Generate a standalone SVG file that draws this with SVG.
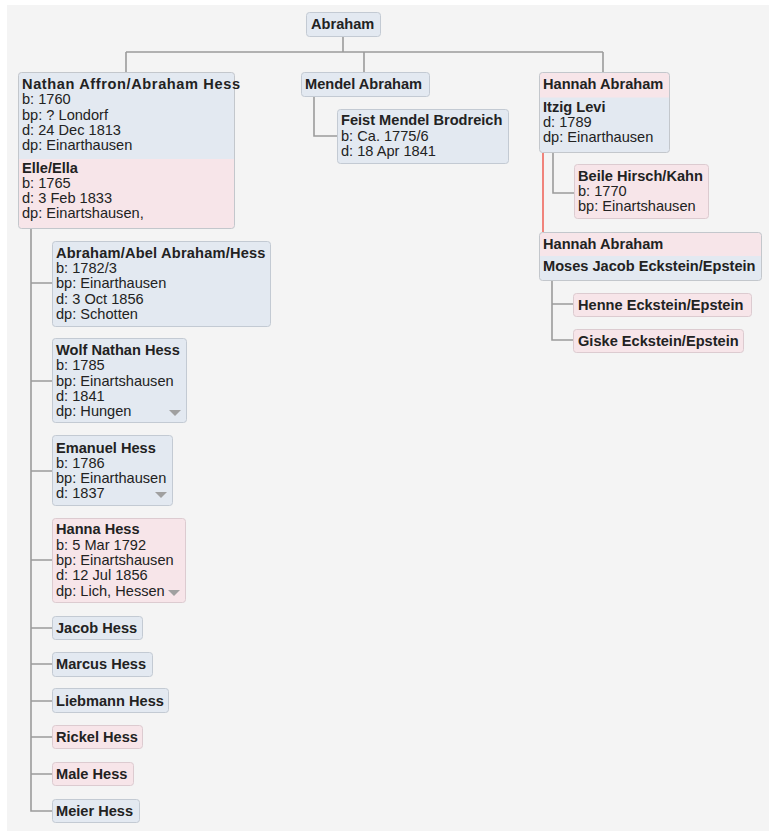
<svg xmlns="http://www.w3.org/2000/svg" width="769" height="833" viewBox="0 0 769 833">
<style>
text{font-family:"Liberation Sans",Arial,sans-serif;font-size:14.6px;fill:#222222}
.t{font-weight:bold}
.b{fill:#e3e9f1;stroke:#c3cad3;stroke-width:1}
.p{fill:#f7e5e9;stroke:#dccbd0;stroke-width:1}
.bf{fill:#e3e9f1}
.pf{fill:#f7e5e9}
.o{fill:none;stroke:#c3c7cc;stroke-width:1}
.c{fill:none;stroke:#9b9b9b;stroke-width:1.6}
.r{fill:none;stroke:#f0837b;stroke-width:2}
.tri{fill:#a0a0a0}
</style>
<rect x="0" y="0" width="769" height="833" fill="#ffffff"/>
<rect x="7" y="5" width="762" height="826" fill="#f4f4f4"/>
<g id="connectors">
<path class="c" d="M343,36 V52 M126,52 H603 M126,52 V72 M364,52 V72 M603,52 V72"/>
<path class="c" d="M314,97 V136 H337"/>
<path class="c" d="M553,153 V193 H574"/>
<path class="c" d="M552,281 V340 H573 M552,304 H573"/>
<path class="c" d="M31,229 V811 H52 M31,283 H52 M31,381 H52 M31,471 H52 M31,560 H52 M31,628 H52 M31,664 H52 M31,701 H52 M31,737 H52 M31,774 H52"/>
<path class="r" d="M543,153 V232"/>
</g>
<g id="abraham">
<rect class="b" x="306.5" y="12.5" width="74" height="24" rx="3"/>
<text class="t" x="311" y="29">Abraham</text>
</g>
<g id="nathan">
<rect class="pf" x="18.5" y="72.5" width="216" height="156" rx="3"/>
<path class="bf" d="M18.5,159 V75.5 Q18.5,72.5 21.5,72.5 H231.5 Q234.5,72.5 234.5,75.5 V159 Z"/>
<rect class="o" x="18.5" y="72.5" width="216" height="156" rx="3"/>
<text class="t" x="22" y="89" letter-spacing="0.6">Nathan Affron/Abraham Hess</text>
<text x="22" y="104">b: 1760</text>
<text x="22" y="120">bp: ? Londorf</text>
<text x="22" y="135">d: 24 Dec 1813</text>
<text x="22" y="150">dp: Einarthausen</text>
<text class="t" x="22" y="173">Elle/Ella</text>
<text x="22" y="188">b: 1765</text>
<text x="22" y="203">d: 3 Feb 1833</text>
<text x="22" y="218">dp: Einartshausen,</text>
</g>
<g id="mendel">
<rect class="b" x="301.5" y="72.5" width="128" height="24" rx="3"/>
<text class="t" x="305" y="89">Mendel Abraham</text>
</g>
<g id="feist">
<rect class="b" x="337.5" y="109.5" width="171" height="54" rx="3"/>
<text class="t" x="341" y="125">Feist Mendel Brodreich</text>
<text x="341" y="141">b: Ca. 1775/6</text>
<text x="341" y="156">d: 18 Apr 1841</text>
</g>
<g id="hannah1">
<rect class="bf" x="539.5" y="72.5" width="130" height="80" rx="3"/>
<path class="pf" d="M539.5,97.5 V75.5 Q539.5,72.5 542.5,72.5 H666.5 Q669.5,72.5 669.5,75.5 V97.5 Z"/>
<rect class="o" x="539.5" y="72.5" width="130" height="80" rx="3"/>
<text class="t" x="543" y="89">Hannah Abraham</text>
<text class="t" x="543" y="112">Itzig Levi</text>
<text x="543" y="127">d: 1789</text>
<text x="543" y="142">dp: Einarthausen</text>
</g>
<g id="beile">
<rect class="p" x="574.5" y="164.5" width="134" height="54" rx="3"/>
<text class="t" x="578" y="181">Beile Hirsch/Kahn</text>
<text x="578" y="196">b: 1770</text>
<text x="578" y="211">bp: Einartshausen</text>
</g>
<g id="hannah2">
<rect class="bf" x="539.5" y="232.5" width="222" height="48" rx="3"/>
<path class="pf" d="M539.5,256 V235.5 Q539.5,232.5 542.5,232.5 H758.5 Q761.5,232.5 761.5,235.5 V256 Z"/>
<rect class="o" x="539.5" y="232.5" width="222" height="48" rx="3"/>
<text class="t" x="543" y="249">Hannah Abraham</text>
<text class="t" x="543" y="271">Moses Jacob Eckstein/Epstein</text>
</g>
<g id="henne">
<rect class="p" x="573.5" y="293.5" width="178" height="23" rx="3"/>
<text class="t" x="578" y="310">Henne Eckstein/Epstein</text>
</g>
<g id="giske">
<rect class="p" x="573.5" y="329.5" width="170" height="23" rx="3"/>
<text class="t" x="578" y="346">Giske Eckstein/Epstein</text>
</g>
<g id="abel">
<rect class="b" x="52.5" y="241.5" width="218" height="85" rx="3"/>
<text class="t" x="56" y="258" letter-spacing="0.2">Abraham/Abel Abraham/Hess</text>
<text x="56" y="273">b: 1782/3</text>
<text x="56" y="288">bp: Einarthausen</text>
<text x="56" y="304">d: 3 Oct 1856</text>
<text x="56" y="319">dp: Schotten</text>
</g>
<g id="wolf">
<rect class="b" x="52.5" y="338.5" width="134" height="84" rx="3"/>
<text class="t" x="56" y="355">Wolf Nathan Hess</text>
<text x="56" y="370">b: 1785</text>
<text x="56" y="386">bp: Einartshausen</text>
<text x="56" y="401">d: 1841</text>
<text x="56" y="416">dp: Hungen</text>
<path class="tri" d="M169,410 H181 L175,416 Z"/>
</g>
<g id="emanuel">
<rect class="b" x="52.5" y="435.5" width="120" height="70" rx="3"/>
<text class="t" x="56" y="453">Emanuel Hess</text>
<text x="56" y="468">b: 1786</text>
<text x="56" y="483">bp: Einarthausen</text>
<text x="56" y="498">d: 1837</text>
<path class="tri" d="M155,492 H167 L161,498 Z"/>
</g>
<g id="hanna">
<rect class="p" x="52.5" y="518.5" width="133" height="84" rx="3"/>
<text class="t" x="56" y="534">Hanna Hess</text>
<text x="56" y="550">b: 5 Mar 1792</text>
<text x="56" y="565">bp: Einartshausen</text>
<text x="56" y="580">d: 12 Jul 1856</text>
<text x="56" y="596">dp: Lich, Hessen</text>
<path class="tri" d="M168,590 H180 L174,596 Z"/>
</g>
<g id="jacob">
<rect class="b" x="52.5" y="616.5" width="90" height="23" rx="3"/>
<text class="t" x="56" y="633">Jacob Hess</text>
</g>
<g id="marcus">
<rect class="b" x="52.5" y="652.5" width="100" height="24" rx="3"/>
<text class="t" x="56" y="669">Marcus Hess</text>
</g>
<g id="liebmann">
<rect class="b" x="52.5" y="688.5" width="116" height="24" rx="3"/>
<text class="t" x="56" y="706">Liebmann Hess</text>
</g>
<g id="rickel">
<rect class="p" x="52.5" y="725.5" width="90" height="23" rx="3"/>
<text class="t" x="56" y="742">Rickel Hess</text>
</g>
<g id="male">
<rect class="p" x="52.5" y="762.5" width="81" height="23" rx="3"/>
<text class="t" x="56" y="779">Male Hess</text>
</g>
<g id="meier">
<rect class="b" x="52.5" y="799.5" width="87" height="23" rx="3"/>
<text class="t" x="56" y="816">Meier Hess</text>
</g>
</svg>
